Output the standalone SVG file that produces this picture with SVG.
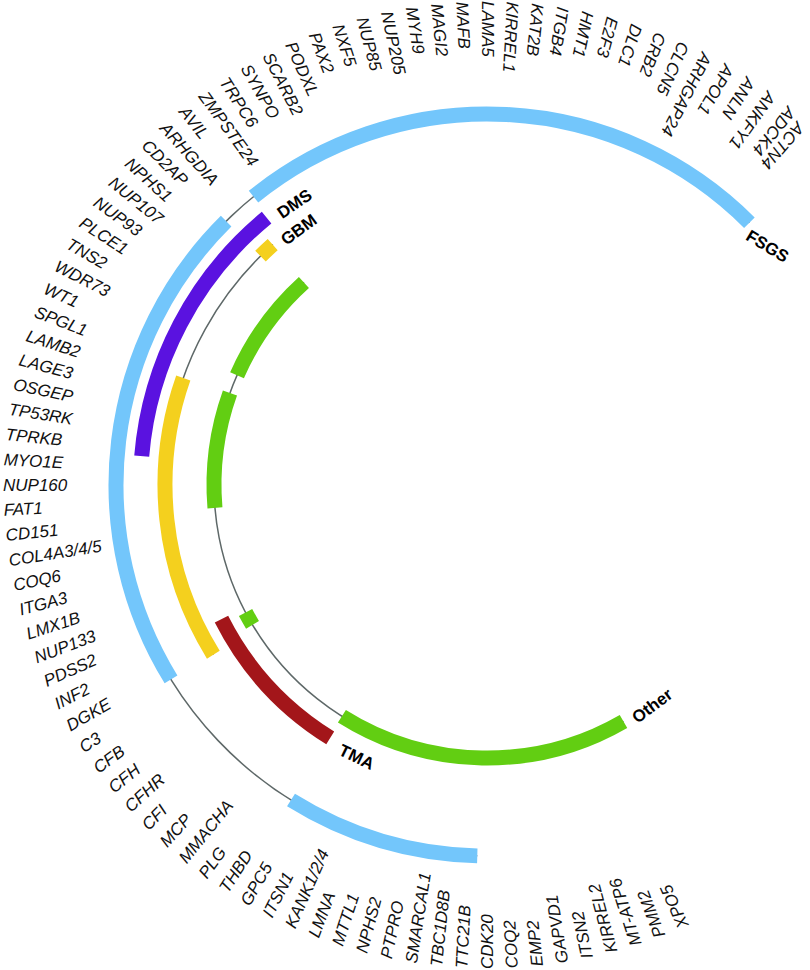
<svg xmlns="http://www.w3.org/2000/svg" width="810" height="970" viewBox="0 0 810 970">
<style>
.seg{fill:none;stroke-width:15;stroke-linecap:butt}
.fsgs{stroke:#73C6FB}
.dms{stroke:#5A12E0}
.gbm{stroke:#F4D01E}
.tma{stroke:#A3161A}
.oth{stroke:#62CE12}
.link{fill:none;stroke:#5E6868;stroke-width:1.5}
.gene{font-family:"Liberation Sans",Arial,sans-serif;font-size:17px;font-style:italic;fill:#111;dominant-baseline:central}
.cat{font-family:"Liberation Sans",Arial,sans-serif;font-size:17px;font-weight:bold;fill:#000;dominant-baseline:central;text-anchor:middle}
</style>
<rect width="810" height="970" fill="#fff"/>
<g transform="translate(487 485)">
<g id="connectors">
<circle class="link" r="371" pathLength="360" stroke-dasharray="223.5 360" transform="rotate(91.5)"/>
<circle class="link" r="322" pathLength="360" stroke-dasharray="80.1 360" transform="rotate(148.2)"/>
<circle class="link" r="273" pathLength="360" stroke-dasharray="167.9 360" transform="rotate(60)"/>
</g>
<g id="FSGS">
<circle class="seg fsgs" r="371" pathLength="360" stroke-dasharray="30.4 360" transform="rotate(91.5)"/>
<circle class="seg fsgs" r="371" pathLength="360" stroke-dasharray="76.9 360" transform="rotate(148.4)"/>
<circle class="seg fsgs" r="371" pathLength="360" stroke-dasharray="84 360" transform="rotate(231)"/>
<text class="cat" style="text-anchor:start" transform="translate(260.5 -250.5) rotate(31)">FSGS</text>
</g>
<g id="DMS">
<circle class="seg dms" r="346.5" pathLength="360" stroke-dasharray="45.7 360" transform="rotate(184.8)"/>
<text class="cat" transform="rotate(325.6)" y="-340.5">DMS</text>
</g>
<g id="GBM">
<circle class="seg gbm" r="322" pathLength="360" stroke-dasharray="51.2 360" transform="rotate(148.2)"/>
<circle class="seg gbm" r="322" pathLength="360" stroke-dasharray="3 360" transform="rotate(225.3)"/>
<text class="cat" transform="rotate(323.6)" y="-317">GBM</text>
</g>
<g id="TMA">
<circle class="seg tma" r="297.5" pathLength="360" stroke-dasharray="31.4 360" transform="rotate(121.8)"/>
<text class="cat" transform="rotate(385.6)" y="302">TMA</text>
</g>
<g id="Other">
<circle class="seg oth" r="273" pathLength="360" stroke-dasharray="62.1 360" transform="rotate(60)"/>
<circle class="seg oth" r="273" pathLength="360" stroke-dasharray="3 360" transform="rotate(149.2)"/>
<circle class="seg oth" r="273" pathLength="360" stroke-dasharray="24.5 360" transform="rotate(175.2)"/>
<circle class="seg oth" r="273" pathLength="360" stroke-dasharray="24.2 360" transform="rotate(203.7)"/>
<text class="cat" transform="rotate(323.2)" y="276">Other</text>
</g>
<g id="genes">
<text class="gene" transform="rotate(131)" x="-478">ACTN4</text>
<text class="gene" transform="rotate(129)" x="-484">ADCK4</text>
<text class="gene" transform="rotate(126)" x="-484">ANKFY1</text>
<text class="gene" transform="rotate(123)" x="-484">ANLN</text>
<text class="gene" transform="rotate(120)" x="-484">APOL1</text>
<text class="gene" transform="rotate(117)" x="-484">ARHGAP24</text>
<text class="gene" transform="rotate(114)" x="-484">CLCN5</text>
<text class="gene" transform="rotate(111)" x="-484">CRB2</text>
<text class="gene" transform="rotate(108)" x="-484">DLC1</text>
<text class="gene" transform="rotate(105)" x="-484">E2F3</text>
<text class="gene" transform="rotate(102)" x="-484">HMT1</text>
<text class="gene" transform="rotate(99)" x="-484">ITGB4</text>
<text class="gene" transform="rotate(96)" x="-484">KAT2B</text>
<text class="gene" transform="rotate(93)" x="-484">KIRREL1</text>
<text class="gene" transform="rotate(90)" x="-484">LAMA5</text>
<text class="gene" transform="rotate(87)" x="-484">MAFB</text>
<text class="gene" transform="rotate(84)" x="-484">MAGI2</text>
<text class="gene" transform="rotate(81)" x="-484">MYH9</text>
<text class="gene" transform="rotate(78)" x="-484">NUP205</text>
<text class="gene" transform="rotate(75)" x="-484">NUP85</text>
<text class="gene" transform="rotate(72)" x="-484">NXF5</text>
<text class="gene" transform="rotate(69)" x="-484">PAX2</text>
<text class="gene" transform="rotate(66)" x="-484">PODXL</text>
<text class="gene" transform="rotate(63)" x="-484">SCARB2</text>
<text class="gene" transform="rotate(60)" x="-484">SYNPO</text>
<text class="gene" transform="rotate(57)" x="-484">TRPC6</text>
<text class="gene" transform="rotate(54)" x="-484">ZMPSTE24</text>
<text class="gene" transform="rotate(51)" x="-484">AVIL</text>
<text class="gene" transform="rotate(48)" x="-484">ARHGDIA</text>
<text class="gene" transform="rotate(45)" x="-484">CD2AP</text>
<text class="gene" transform="rotate(42)" x="-484">NPHS1</text>
<text class="gene" transform="rotate(39)" x="-484">NUP107</text>
<text class="gene" transform="rotate(36)" x="-484">NUP93</text>
<text class="gene" transform="rotate(33)" x="-484">PLCE1</text>
<text class="gene" transform="rotate(30)" x="-484">TNS2</text>
<text class="gene" transform="rotate(27)" x="-484">WDR73</text>
<text class="gene" transform="rotate(24)" x="-484">WT1</text>
<text class="gene" transform="rotate(21)" x="-484">SPGL1</text>
<text class="gene" transform="rotate(18)" x="-484">LAMB2</text>
<text class="gene" transform="rotate(15)" x="-484">LAGE3</text>
<text class="gene" transform="rotate(12)" x="-484">OSGEP</text>
<text class="gene" transform="rotate(9)" x="-484">TP53RK</text>
<text class="gene" transform="rotate(6)" x="-484">TPRKB</text>
<text class="gene" transform="rotate(3)" x="-484">MYO1E</text>
<text class="gene" transform="rotate(0)" x="-484">NUP160</text>
<text class="gene" transform="rotate(-3)" x="-484">FAT1</text>
<text class="gene" transform="rotate(-6)" x="-484">CD151</text>
<text class="gene" transform="rotate(-9)" x="-484">COL4A3/4/5</text>
<text class="gene" transform="rotate(-12)" x="-484">COQ6</text>
<text class="gene" transform="rotate(-15)" x="-484">ITGA3</text>
<text class="gene" transform="rotate(-18)" x="-484">LMX1B</text>
<text class="gene" transform="rotate(-21)" x="-484">NUP133</text>
<text class="gene" transform="rotate(-24)" x="-484">PDSS2</text>
<text class="gene" transform="rotate(-27)" x="-484">INF2</text>
<text class="gene" transform="rotate(-30)" x="-484">DGKE</text>
<text class="gene" transform="rotate(-33)" x="-484">C3</text>
<text class="gene" transform="rotate(-36)" x="-484">CFB</text>
<text class="gene" transform="rotate(-39)" x="-484">CFH</text>
<text class="gene" transform="rotate(-42)" x="-484">CFHR</text>
<text class="gene" transform="rotate(-45)" x="-484">CFI</text>
<text class="gene" transform="rotate(-48)" x="-484">MCP</text>
<text class="gene" transform="rotate(-51)" x="-484">MMACHA</text>
<text class="gene" transform="rotate(-54)" x="-484">PLG</text>
<text class="gene" transform="rotate(-57)" x="-484">THBD</text>
<text class="gene" transform="rotate(-60)" x="-484">GPC5</text>
<text class="gene" transform="rotate(-63)" x="-484">ITSN1</text>
<text class="gene" transform="rotate(-66)" x="-484">KANK1/2/4</text>
<text class="gene" transform="rotate(-69)" x="-484">LMNA</text>
<text class="gene" transform="rotate(-72)" x="-484">MTTL1</text>
<text class="gene" transform="rotate(-75)" x="-484">NPHS2</text>
<text class="gene" transform="rotate(-78)" x="-484">PTPRO</text>
<text class="gene" transform="rotate(-81)" x="-484">SMARCAL1</text>
<text class="gene" transform="rotate(-84)" x="-484">TBC1D8B</text>
<text class="gene" transform="rotate(-87)" x="-484">TTC21B</text>
<text class="gene" transform="rotate(-90)" x="-484">CDK20</text>
<text class="gene" transform="rotate(-93)" x="-484">COQ2</text>
<text class="gene" transform="rotate(-96)" x="-484">EMP2</text>
<text class="gene" transform="rotate(-99)" x="-484">GAPVD1</text>
<text class="gene" transform="rotate(-102)" x="-484">ITSN2</text>
<text class="gene" transform="rotate(-105)" x="-484">KIRREL2</text>
<text class="gene" transform="rotate(-108)" x="-484">MT-ATP6</text>
<text class="gene" transform="rotate(-111)" x="-484">PMM2</text>
<text class="gene" transform="rotate(-114)" x="-484">XPO5</text>
</g>
</g>
</svg>
